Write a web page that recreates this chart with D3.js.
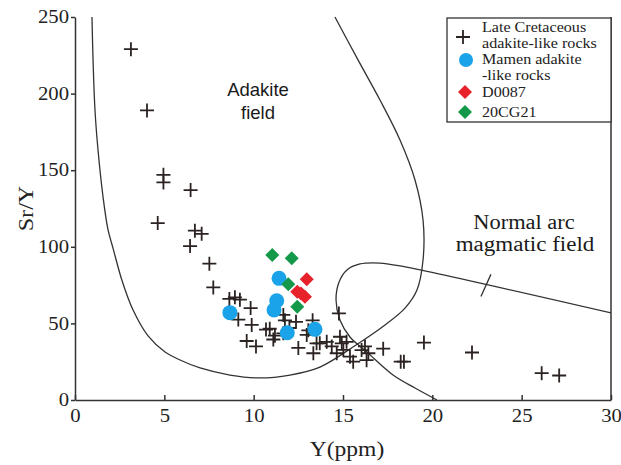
<!DOCTYPE html>
<html><head><meta charset="utf-8">
<script src="https://cdn.jsdelivr.net/npm/d3@7"></script>
<style>body{margin:0;background:#fff}</style>
</head><body><div id="chart"></div>
<script>
const W = 621, H = 465;
const margin = {left:75, right:10, top:17, bottom:65};

// x = Y (ppm), y = Sr/Y
const lateCretaceous = [
  [3.13,229],[4.03,189],[4.95,147],[4.95,142],[4.63,115.5],[6.47,137],[6.71,110.5],[7.09,108.5],
  [6.44,100.5],[7.52,89],[7.74,73.5],[8.64,66],[8.95,67],[9.23,65.5],[9.83,60],[9.14,52.5],
  [9.89,49],[10.69,46],[10.9,46.5],[11.19,42],[9.61,38.5],[10.13,35],[11.66,55.5],[11.75,52],
  [12.37,51],[11.1,39.5],[11.66,43.5],[12.5,34],[13.06,45.5],[12.97,42.5],[13.52,37],[13.3,52],
  [14.77,56.5],[14.09,38],[14.37,35],[13.7,37],[13.34,30.5],[14.83,41.3],[14.93,37],[15.02,32.7],
  [14.65,30.5],[15.39,28.3],[15.57,25],[16.04,32.6],[16.23,35],[16.42,30.5],[16.32,26],[17.25,33.5],
  [18.23,25],[18.41,25],[19.53,37.5],[22.22,31],[26.12,17.5],[27.1,16],[12.0,47],[15.2,38]
];
const mamen = [[8.67,57],[11.42,79.4],[11.29,64.8],[11.14,58.7],[11.88,43.9],[13.43,46.1]];
const d0087 = [[12.97,78.8],[12.44,70.7],[12.87,67.4],[12.65,69.5]];
const cg21 = [[11.04,94.6],[12.13,92.5],[11.94,75.5],[12.44,60.9]];

const xTicks = [0,5,10,15,20,25,30];
const yTicks = [0,50,100,150,200,250];

// field boundaries (data units)
const adakiteBoundary = [
  [0.95,250],[1.01,222],[1.12,189],[1.29,163],[1.57,132.5],[1.85,111],[2.13,99],[2.63,78],
  [3.25,58.7],[4.09,41.8],[5.04,31.3],[5.88,26.1],[7.0,20.9],[8.67,16.3],[10.35,14.4],[12.03,16.3],
  [13.71,21.5],[15.56,34.6],[17.35,49],[18.47,60],[19.14,71.8],[19.48,91.4],[19.48,117.5],
  [19.03,143.6],[18.19,169.7],[17.07,195.8],[15.84,222],[14.55,250]
];
const arcBoundary = [
  [20.26,0],[19.03,7.8],[17.8,16.3],[16.34,31.3],[15.39,41.1],[14.83,52.2],[14.61,65.3],
  [14.78,77],[15.22,84.9],[15.95,88.8],[17.07,89.4],[18.19,87.5],[30,56.8]
];
const leader = [[22.72,67.6],[23.28,82]];

const svg = d3.select('#chart').append('svg').attr('width',W).attr('height',H)
  .style('font-family','"Liberation Serif","Times New Roman",serif');

function stretch(sel, f){
  sel.each(function(){
    const l = this.getComputedTextLength();
    d3.select(this).attr('textLength', l*f).attr('lengthAdjust','spacingAndGlyphs');
  });
}

const x = d3.scaleLinear().domain([0,30]).range([margin.left, W-margin.right]);
const y = d3.scaleLinear().domain([0,250]).range([H-margin.bottom, margin.top]);

const axisColor = '#333';
const gx = svg.append('g').attr('transform',`translate(0,${y(0)})`)
  .call(d3.axisBottom(x).tickValues(xTicks).tickSize(-5).tickPadding(9).tickSizeOuter(0));
gx.selectAll('text').attr('dy','0.71em');
const gy = svg.append('g').attr('transform',`translate(${x(0)},0)`)
  .call(d3.axisLeft(y).tickValues(yTicks).tickSize(4).tickPadding(2).tickSizeOuter(0));
[gx,gy].forEach(g=>{
  g.selectAll('path,line').attr('stroke',axisColor).attr('stroke-width',1.5);
  g.selectAll('text').attr('font-size',18).attr('fill','#222').attr('font-family','"Liberation Serif",serif');
  stretch(g.selectAll('text'),1.15);
});
svg.append('line').attr('x1',x(30)).attr('x2',x(30)).attr('y1',y(250)).attr('y2',y(0))
  .attr('stroke',axisColor).attr('stroke-width',1.5);

const line = d3.line().x(d=>x(d[0])).y(d=>y(d[1])).curve(d3.curveCatmullRom.alpha(0.5));
svg.append('path').attr('d',line(adakiteBoundary)).attr('fill','none').attr('stroke','#333').attr('stroke-width',1.3);
svg.append('path').attr('d',line(arcBoundary)).attr('fill','none').attr('stroke','#333').attr('stroke-width',1.3);
svg.append('path').attr('d',d3.line().x(d=>x(d[0])).y(d=>y(d[1]))(leader)).attr('fill','none').attr('stroke','#333').attr('stroke-width',1.3);

const lab = (t,cx,cy,fs,fam)=>svg.append('text').attr('x',cx).attr('y',cy).attr('text-anchor','middle')
  .attr('font-size',fs).attr('fill','#1a1a1a').attr('font-family',fam).text(t);
lab('Adakite',258,96,18.5,'"Liberation Sans",Arial,sans-serif');
lab('field',258,119,18.5,'"Liberation Sans",Arial,sans-serif');
stretch(lab('Normal arc',524,229,20,'"Liberation Serif",serif'),1.12);
stretch(lab('magmatic field',525,251,20,'"Liberation Serif",serif'),1.15);

const yt = svg.append('text').attr('transform',`translate(33,${(y(0)+y(250))/2}) rotate(-90)`)
  .attr('text-anchor','middle').attr('font-size',21).attr('fill','#222').text('Sr/Y');
stretch(yt,1.15);
const xt = svg.append('text').attr('x',347).attr('y',456).attr('text-anchor','middle')
  .attr('font-size',21).attr('fill','#222').text('Y(ppm)');
stretch(xt,1.12);

const crossCol = '#2b2321';
const crossPath = s => `M${-s},0H${s}M0,${-s}V${s}`;
svg.append('g').selectAll('path').data(lateCretaceous).join('path')
  .attr('transform',d=>`translate(${x(d[0])},${y(d[1])})`).attr('d',crossPath(7))
  .attr('stroke',crossCol).attr('stroke-width',1.8).attr('fill','none');
const blue = '#1aa3e8', red = '#e8222a', green = '#14994a';
svg.append('g').selectAll('circle').data(mamen).join('circle')
  .attr('cx',d=>x(d[0])).attr('cy',d=>y(d[1])).attr('r',7.5).attr('fill',blue);
const diamond = s => `M0,${-s}L${s},0L0,${s}L${-s},0Z`;
svg.append('g').selectAll('path').data(d0087).join('path')
  .attr('transform',d=>`translate(${x(d[0])},${y(d[1])})`).attr('d',diamond(7)).attr('fill',red);
svg.append('g').selectAll('path').data(cg21).join('path')
  .attr('transform',d=>`translate(${x(d[0])},${y(d[1])})`).attr('d',diamond(7)).attr('fill',green);

// legend
const lg = svg.append('g');
lg.append('rect').attr('x',447).attr('y',18).attr('width',x(30)-447).attr('height',104)
  .attr('fill','#fff').attr('stroke','#333').attr('stroke-width',1.3);
lg.append('path').attr('transform','translate(463,37)').attr('d',crossPath(7)).attr('stroke',crossCol).attr('stroke-width',1.8);
lg.append('circle').attr('cx',466).attr('cy',60).attr('r',7).attr('fill',blue);
lg.append('path').attr('transform','translate(465,92)').attr('d',diamond(7)).attr('fill',red);
lg.append('path').attr('transform','translate(465,112)').attr('d',diamond(7)).attr('fill',green);
const lt = (t,yy)=>stretch(lg.append('text').attr('x',482).attr('y',yy).attr('font-size',14).attr('fill','#222').text(t),1.15);
lt('Late Cretaceous',32); lt('adakite-like rocks',48); lt('Mamen adakite',64); lt('-like rocks',79.5);
lt('D0087',97); lt('20CG21',117);
</script></body></html>
